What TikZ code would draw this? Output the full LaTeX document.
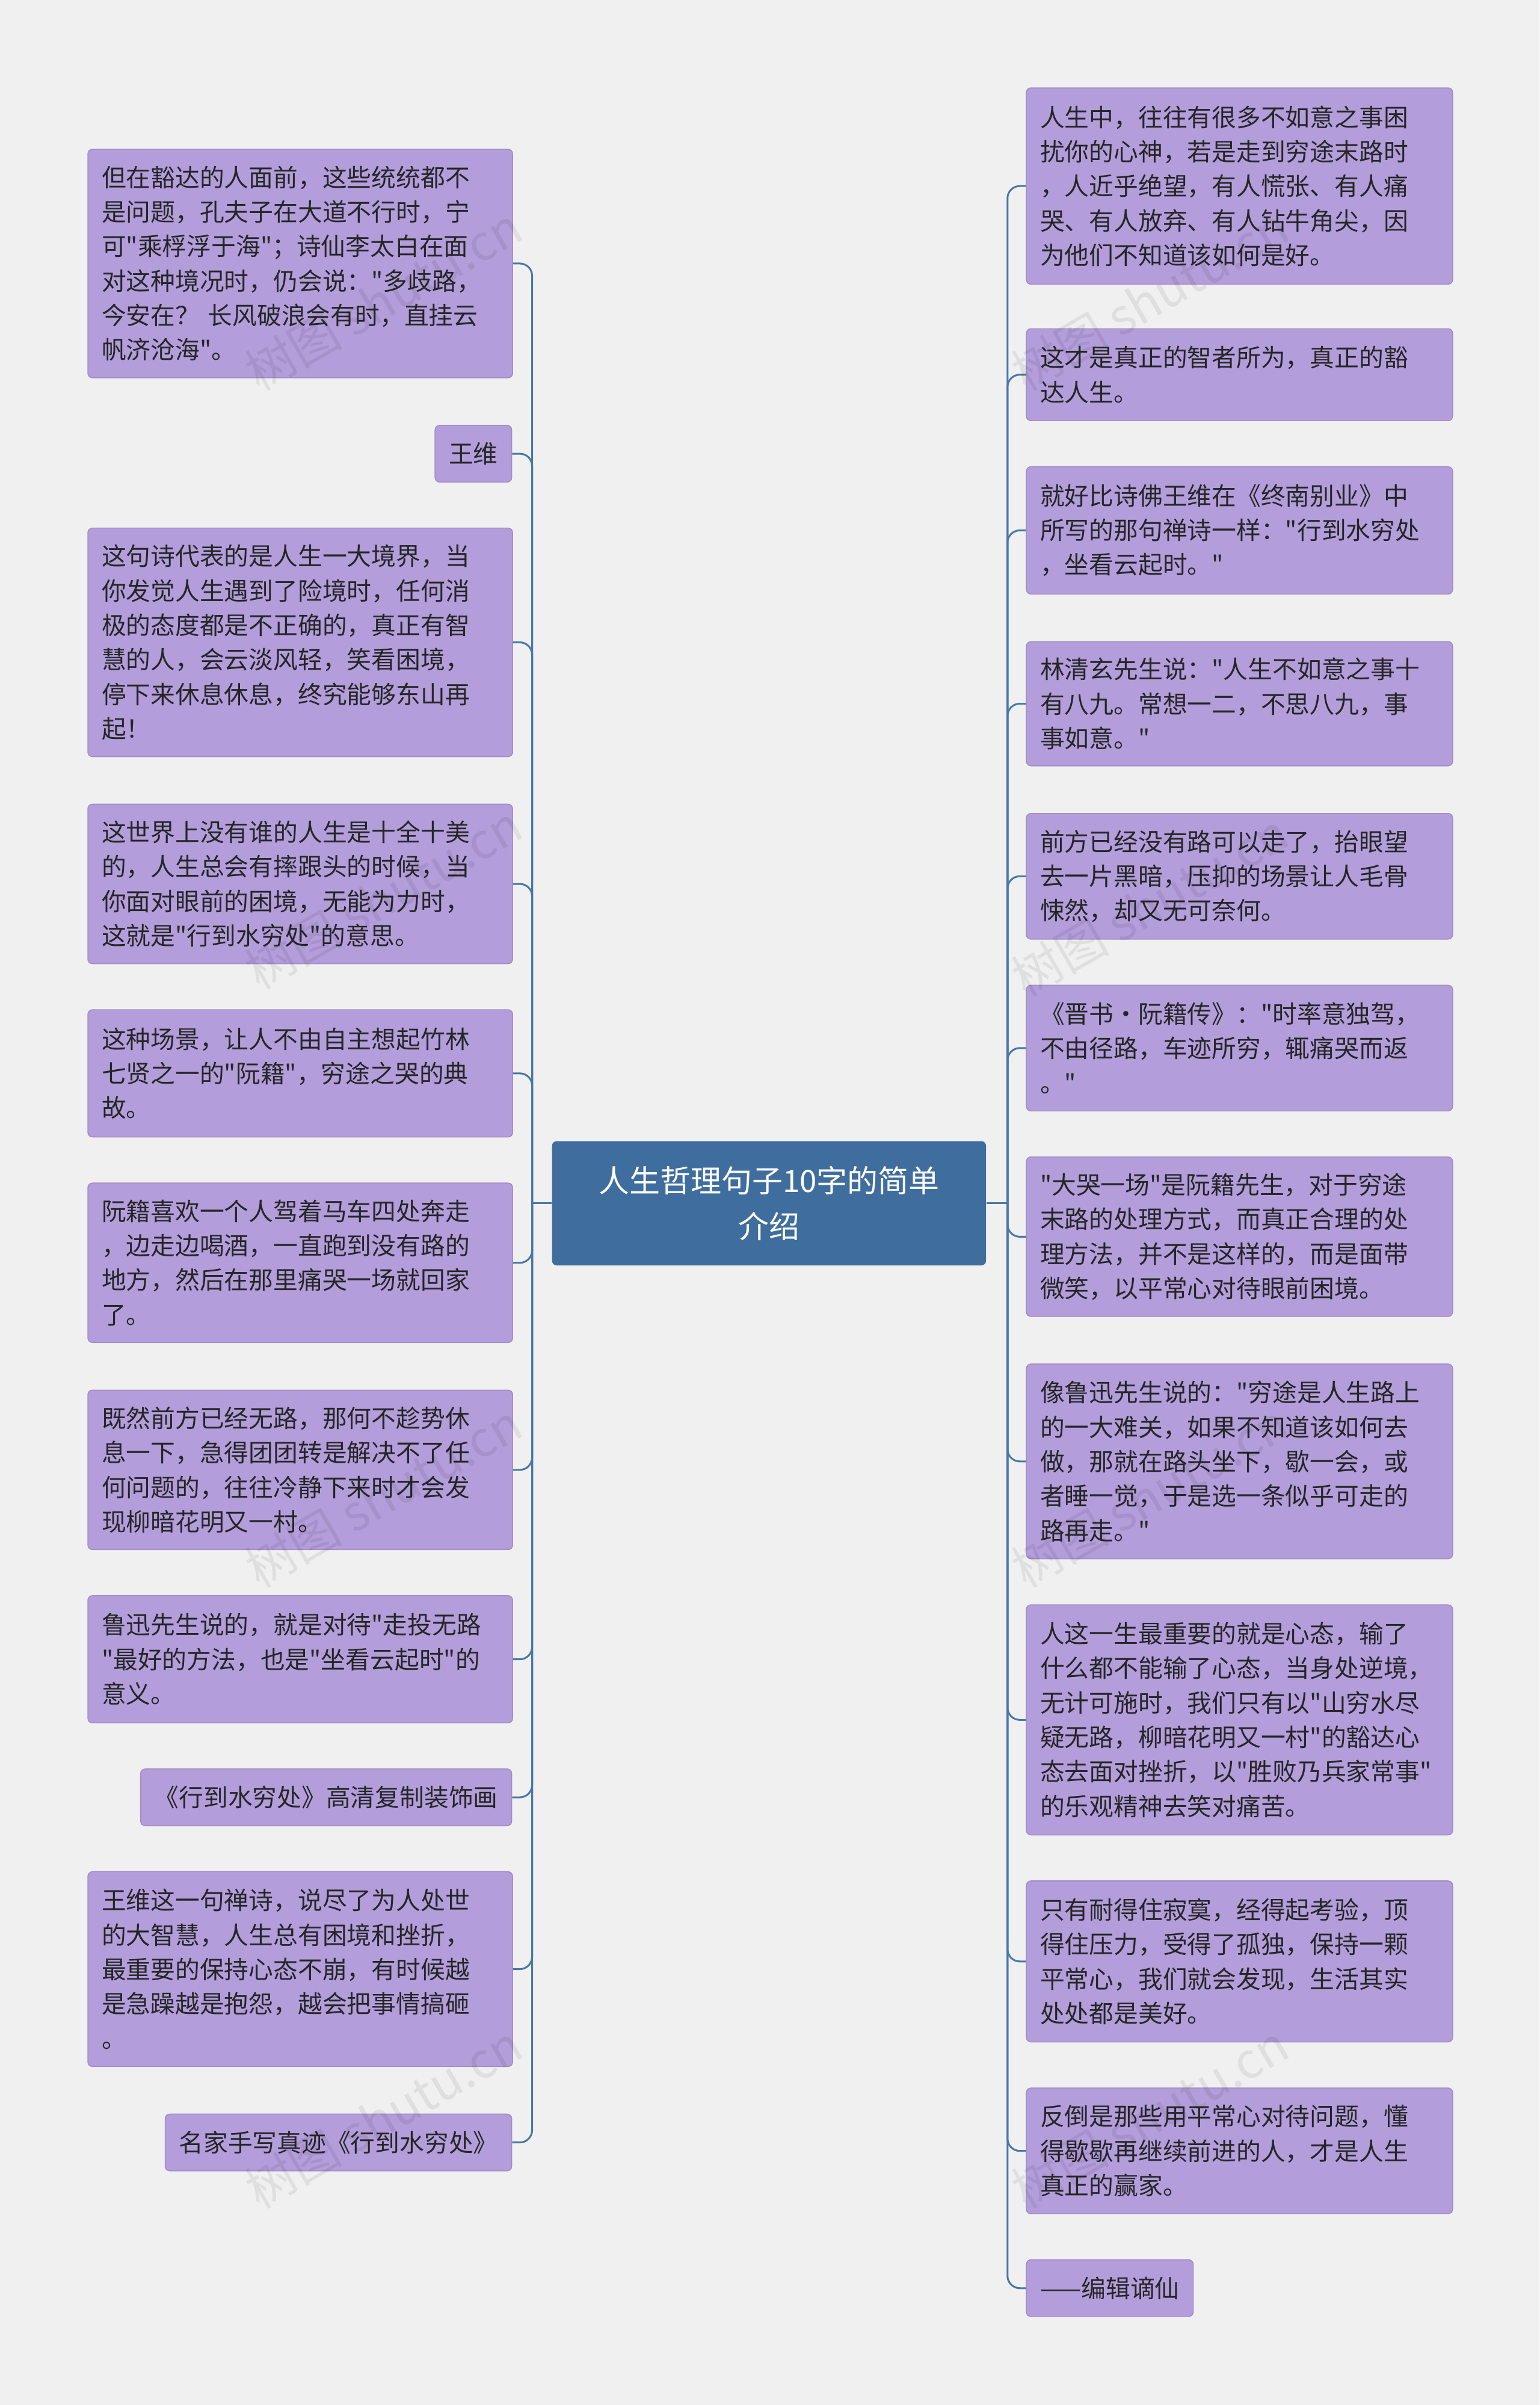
\documentclass[tikz,border=0pt]{standalone}
\usepackage{fontspec}
\setmainfont{Noto Sans CJK SC}[Ligatures=TeXOff]
\definecolor{bgc}{HTML}{F0F0F0}
\definecolor{leafc}{HTML}{B39DDB}
\definecolor{rootc}{HTML}{3F6E9E}
\definecolor{linec}{HTML}{4A78A6}
\tikzset{
  leaf/.style={fill=leafc,draw=leafc!90!black,line width=0.3pt,rounded corners=1.5pt,inner xsep=4.5pt,inner ysep=3pt,align=left,text=black!85,font=\fontsize{8}{11.25}\selectfont},
  lleaf/.style={leaf,anchor=north west,text width=129.5pt},
  rleaf/.style={leaf,anchor=north west,text width=130pt},
  sleaf/.style={leaf,anchor=north east,minimum height=18.5pt},
  root/.style={fill=rootc,rounded corners=1.5pt,text=white,align=center,font=\fontsize{10}{15}\selectfont,minimum width=141.5pt,minimum height=40.5pt},
  link/.style={draw=linec,line width=0.6pt,rounded corners=4pt},
  wm/.style={text=black,opacity=0.07,rotate=30,font=\fontsize{16}{16}\selectfont}
}
\begin{document}
\begin{tikzpicture}[x=0.5pt,y=-0.5pt]
\fill[bgc] (0,0) rectangle (1004,1568);
\useasboundingbox (0,0) rectangle (1004,1568);
% root
\node[root] (c) at (501.5,784.5) {人生哲理句子10字的简单\\介绍};
\coordinate (ls) at (347,784.5);
\coordinate (rs) at (657,784.5);
% left side
\node[lleaf,minimum height=74.5pt] (l1) at (57,97) {但在豁达的人面前，这些统统都不\\是问题，孔夫子在大道不行时，宁\\可"乘桴浮于海"；诗仙李太白在面\\对这种境况时，仍会说："多歧路，\\今安在？ 长风破浪会有时，直挂云\\帆济沧海"。};
\node[sleaf] (l2) at (334,277) {王维};
\node[lleaf,minimum height=74.5pt] (l3) at (57,344) {这句诗代表的是人生一大境界，当\\你发觉人生遇到了险境时，任何消\\极的态度都是不正确的，真正有智\\慧的人，会云淡风轻，笑看困境，\\停下来休息休息，终究能够东山再\\起！};
\node[lleaf,minimum height=52pt] (l4) at (57,524) {这世界上没有谁的人生是十全十美\\的，人生总会有摔跟头的时候，当\\你面对眼前的困境，无能为力时，\\这就是"行到水穷处"的意思。};
\node[lleaf,minimum height=41.5pt] (l5) at (57,658) {这种场景，让人不由自主想起竹林\\七贤之一的"阮籍"，穷途之哭的典\\故。};
\node[lleaf,minimum height=52pt] (l6) at (57,771) {阮籍喜欢一个人驾着马车四处奔走\\，边走边喝酒，一直跑到没有路的\\地方，然后在那里痛哭一场就回家\\了。};
\node[lleaf,minimum height=52pt] (l7) at (57,906) {既然前方已经无路，那何不趁势休\\息一下，急得团团转是解决不了任\\何问题的，往往冷静下来时才会发\\现柳暗花明又一村。};
\node[lleaf,minimum height=41.5pt] (l8) at (57,1040) {鲁迅先生说的，就是对待"走投无路\\"最好的方法，也是"坐看云起时"的\\意义。};
\node[sleaf] (l9) at (334,1153) {《行到水穷处》高清复制装饰画};
\node[lleaf,minimum height=63.5pt] (l10) at (57,1220) {王维这一句禅诗，说尽了为人处世\\的大智慧，人生总有困境和挫折，\\最重要的保持心态不崩，有时候越\\是急躁越是抱怨，越会把事情搞砸\\。};
\node[sleaf] (l11) at (334,1378) {名家手写真迹《行到水穷处》};
% right side
\node[rleaf,minimum height=64pt] (r1) at (669,57) {人生中，往往有很多不如意之事困\\扰你的心神，若是走到穷途末路时\\，人近乎绝望，有人慌张、有人痛\\哭、有人放弃、有人钻牛角尖，因\\为他们不知道该如何是好。};
\node[rleaf,minimum height=30pt] (r2) at (669,214) {这才是真正的智者所为，真正的豁\\达人生。};
\node[rleaf,minimum height=41.5pt] (r3) at (669,304) {就好比诗佛王维在《终南别业》中\\所写的那句禅诗一样："行到水穷处\\，坐看云起时。"};
\node[rleaf,minimum height=40.5pt] (r4) at (669,418) {林清玄先生说："人生不如意之事十\\有八九。常想一二，不思八九，事\\事如意。"};
\node[rleaf,minimum height=41pt] (r5) at (669,530) {前方已经没有路可以走了，抬眼望\\去一片黑暗，压抑的场景让人毛骨\\悚然，却又无可奈何。};
\node[rleaf,minimum height=41pt] (r6) at (669,642) {《晋书·阮籍传》："时率意独驾，\\不由径路，车迹所穷，辄痛哭而返\\。"};
\node[rleaf,minimum height=52pt] (r7) at (669,754) {"大哭一场"是阮籍先生，对于穷途\\末路的处理方式，而真正合理的处\\理方法，并不是这样的，而是面带\\微笑，以平常心对待眼前困境。};
\node[rleaf,minimum height=63.5pt] (r8) at (669,889) {像鲁迅先生说的："穷途是人生路上\\的一大难关，如果不知道该如何去\\做，那就在路头坐下，歇一会，或\\者睡一觉，于是选一条似乎可走的\\路再走。"};
\node[rleaf,minimum height=75pt] (r9) at (669,1046) {人这一生最重要的就是心态，输了\\什么都不能输了心态，当身处逆境，\\无计可施时，我们只有以"山穷水尽\\疑无路，柳暗花明又一村"的豁达心\\态去面对挫折，以"胜败乃兵家常事"\\的乐观精神去笑对痛苦。};
\node[rleaf,minimum height=52.5pt] (r10) at (669,1226) {只有耐得住寂寞，经得起考验，顶\\得住压力，受得了孤独，保持一颗\\平常心，我们就会发现，生活其实\\处处都是美好。};
\node[rleaf,minimum height=41pt] (r11) at (669,1361) {反倒是那些用平常心对待问题，懂\\得歇歇再继续前进的人，才是人生\\真正的赢家。};
\node[leaf,anchor=north west,minimum height=18.5pt] (r12) at (669,1473) {——编辑谪仙};
% connectors
\draw[link] (c.west) -- (ls);
\draw[link] (c.east) -- (rs);
\foreach \i in {1,...,11}
  \draw[link] (ls) |- (l\i.east);
\foreach \i in {1,...,12}
  \draw[link] (rs) |- (r\i.west);
% watermarks
\foreach \x/\y in {250/195,250/585,250/975,250/1380,750/195,750/590,750/975,750/1380}
  \node[wm] at (\x,\y) {树图 shutu.cn};
\end{tikzpicture}
\end{document}
